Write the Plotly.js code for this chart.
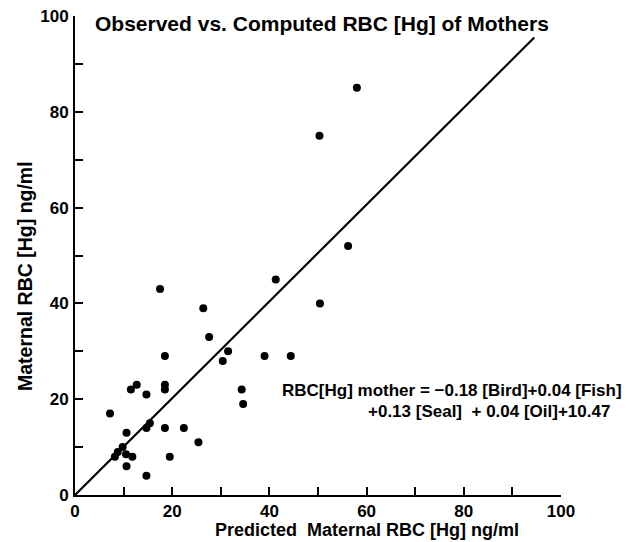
<!DOCTYPE html>
<html>
<head>
<meta charset="utf-8">
<script src="https://cdn.plot.ly/plotly-3.0.1.min.js"></script>
<style>html,body{margin:0;padding:0;background:#fff;}#chart{width:627px;height:542px;}</style>
</head>
<body>
<div id="chart"></div>
<script>
// Observed (maternal RBC Hg) vs predicted values
const predicted = [58, 50.3, 56.2, 41.3, 50.4, 17.5, 26.4, 27.6, 31.5, 30.4, 18.5, 39, 44.4, 34.3, 34.6,
  12.7, 11.5, 14.7, 18.5, 18.5, 7.2, 15.4, 14.7, 18.5, 22.4, 10.6, 25.4, 9.8, 8.2, 8.8, 10.5, 11.8, 10.6, 19.5, 14.7];
const observed = [85, 75, 52, 45, 40, 43, 39, 33, 30, 28, 29, 29, 29, 22, 19,
  23, 22, 21, 23, 22, 17, 15, 14, 14, 14, 13, 11, 10, 8, 9, 8.5, 8, 6, 8, 4];
// Fitted line end points
const lineX = [0, 94.5];
const lineY = [0, 95.5];
const tickVals = [0, 20, 40, 60, 80, 100];
const tickText = ["0", "20", "40", "60", "80", "100"];

const font = "Liberation Sans, Arial, sans-serif";

const data = [
  {x: lineX, y: lineY, mode: "lines", line: {color: "#000", width: 2.2}, hoverinfo: "skip"},
  {x: predicted, y: observed, mode: "markers", marker: {color: "#000", size: 8}}
];

const axisBase = {
  range: [0, 100], showgrid: false, zeroline: false, showline: true,
  linecolor: "#000", linewidth: 2, ticks: "inside", ticklen: 8, tickwidth: 2, tickcolor: "#000",
  tickmode: "array", tickvals: tickVals, ticktext: tickText,
  minor: {dtick: 10, ticks: "inside", ticklen: 8, tickwidth: 2, tickcolor: "#000", showgrid: false},
  tickfont: {family: font, size: 17, weight: "bold", color: "#000"}
};

const layout = {
  width: 627, height: 542, showlegend: false,
  paper_bgcolor: "#fff", plot_bgcolor: "#fff",
  margin: {l: 75, r: 66, t: 16, b: 47},
  xaxis: Object.assign({}, axisBase, {ticklabelstandoff: 0}),
  yaxis: Object.assign({}, axisBase, {ticklabelstandoff: 1}),
  annotations: [
    {xref: "paper", yref: "paper", x: 0.037, y: 0.985, xanchor: "left", yanchor: "middle",
     text: "Observed vs. Computed RBC [Hg] of Mothers", showarrow: false,
     font: {family: font, size: 21, weight: "bold", color: "#000"}},
    {xref: "paper", yref: "paper", x: 0.6, y: -0.073, xanchor: "center", yanchor: "middle", borderpad: 0,
     text: "Predicted  Maternal RBC [Hg] ng/ml", showarrow: false,
     font: {family: font, size: 18, weight: "bold", color: "#000"}},
    {xref: "paper", yref: "paper", x: -0.103, y: 0.457, xanchor: "center", yanchor: "middle",
     text: "Maternal RBC [Hg] ng/ml", textangle: -90, showarrow: false,
     font: {family: font, size: 19.5, weight: "bold", color: "#000"}},
    {xref: "paper", yref: "y", x: 1.13, y: 21.8, xanchor: "right", yanchor: "middle",
     text: "RBC[Hg] mother = −0.18 [Bird]+0.04 [Fish]", showarrow: false,
     font: {family: font, size: 17, weight: "bold", color: "#000"}},
    {xref: "paper", yref: "y", x: 1.105, y: 17.4, xanchor: "right", yanchor: "middle",
     text: "+0.13 [Seal]  + 0.04 [Oil]+10.47", showarrow: false,
     font: {family: font, size: 17, weight: "bold", color: "#000"}}
  ]
};

Plotly.newPlot("chart", data, layout, {displayModeBar: false, staticPlot: true});
</script>
</body>
</html>
